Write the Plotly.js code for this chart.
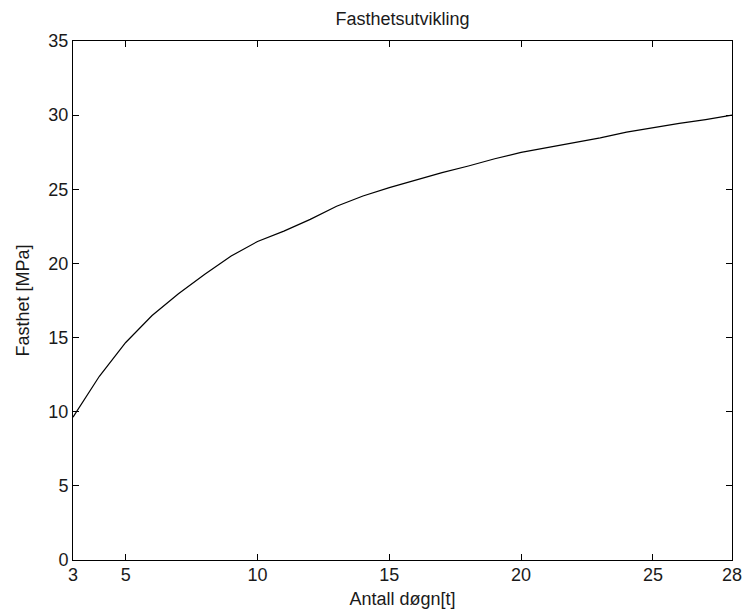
<!DOCTYPE html>
<html>
<head>
<meta charset="utf-8">
<script src="https://cdn.plot.ly/plotly-3.0.1.min.js"></script>
<style>
  html, body { margin: 0; padding: 0; background: #fff; }
  #chart { width: 742px; height: 615px; }
</style>
</head>
<body>
<div id="chart"></div>
<script>
// Strength development of concrete over curing days
const days = [3, 4, 5, 6, 7, 8, 9, 10, 11, 12, 13, 14, 15, 16, 17, 18, 19, 20, 21, 22, 23, 24, 25, 26, 27, 28];
const strength = [9.63, 12.39, 14.67, 16.49, 17.96, 19.27, 20.50, 21.48, 22.18, 22.97, 23.86, 24.55, 25.11, 25.62, 26.12, 26.57, 27.06, 27.49, 27.80, 28.16, 28.47, 28.85, 29.17, 29.44, 29.70, 30.0];

const xTicks = [3, 5, 10, 15, 20, 25, 28];
const yTicks = [0, 5, 10, 15, 20, 25, 30, 35];

const titleText = 'Fasthetsutvikling';
const xTitle = 'Antall døgn[t]';
const yTitle = 'Fasthet [MPa]';

const font = 'Liberation Sans, Arial, sans-serif';
const ink = '#1a1a1a';

const trace = {
  x: days,
  y: strength,
  type: 'scatter',
  mode: 'lines',
  line: { color: '#000', width: 1.2 },
  hoverinfo: 'x+y'
};

const axisCommon = {
  showline: true,
  linecolor: '#000',
  linewidth: 1,
  mirror: 'ticks',
  ticks: 'inside',
  ticklen: 6,
  tickcolor: '#000',
  tickwidth: 1,
  showgrid: false,
  zeroline: false,
  ticklabeloverflow: 'allow',
  tickfont: { family: font, size: 18, color: ink }
};

const layout = {
  width: 742,
  height: 615,
  paper_bgcolor: '#fff',
  plot_bgcolor: '#fff',
  margin: { l: 73, r: 10, t: 41, b: 55 },
  showlegend: false,
  title: {
    text: titleText,
    font: { family: font, size: 18, color: ink },
    x: 0.5, xref: 'paper',
    y: 1 - 19 / 615, yref: 'container', yanchor: 'middle'
  },
  xaxis: Object.assign({}, axisCommon, {
    range: [3, 28],
    tickmode: 'array',
    tickvals: xTicks,
    ticktext: xTicks.map(String),
    ticklabelstandoff: -2,
    title: { text: xTitle, font: { family: font, size: 18, color: ink }, standoff: 8 }
  }),
  yaxis: Object.assign({}, axisCommon, {
    range: [0, 35],
    tickmode: 'array',
    tickvals: yTicks,
    ticktext: yTicks.map(String),
    title: { text: yTitle, font: { family: font, size: 18, color: ink }, standoff: 14 }
  })
};

Plotly.newPlot('chart', [trace], layout, { displayModeBar: false, staticPlot: true });
</script>
</body>
</html>
